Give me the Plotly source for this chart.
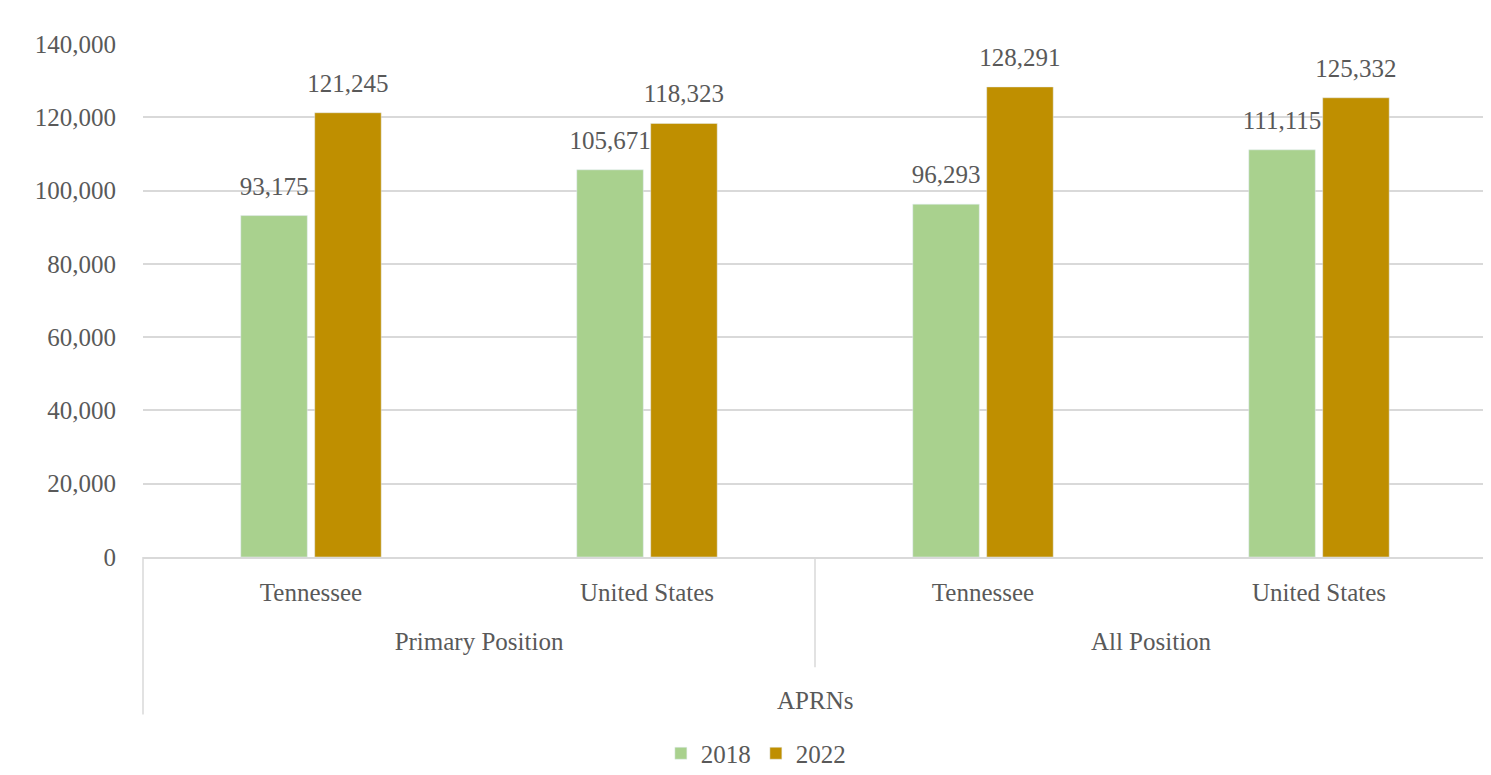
import plotly.graph_objects as go

groups = ["Primary Position", "Primary Position", "All Position", "All Position"]
regions = ["Tennessee", "United States", "Tennessee", "United States"]
vals_2018 = [93175, 105671, 96293, 111115]
vals_2022 = [121245, 118323, 128291, 125332]
y_ticks = [0, 20000, 40000, 60000, 80000, 100000, 120000, 140000]
outer_label = "APRNs"

FONT = "Liberation Serif, Times New Roman, serif"
GREY = "#595959"
LINE = "#d9d9d9"
BARGAP = 0.56

xcats = [["<br>" + g for g in groups], regions]

fig = go.Figure()
for name, vals, color in [("2018", vals_2018, "#A9D18E"), ("2022", vals_2022, "#BF8F00")]:
    fig.add_trace(go.Bar(
        x=xcats, y=vals, name=name, marker_color=color, offsetgroup=name,
    ))
for name, vals in [("2018", vals_2018), ("2022", vals_2022)]:
    fig.add_trace(go.Scatter(
        x=xcats, y=vals, offsetgroup=name, mode="markers+text",
        marker=dict(size=22, opacity=0), showlegend=False, hoverinfo="skip",
        text=[f"{v:,}" for v in vals], textposition="top center",
        textfont=dict(family=FONT, size=25, color=GREY), cliponaxis=False,
    ))

fig.update_layout(
    width=1483, height=767,
    margin=dict(l=135, r=4, t=36, b=218, autoexpand=False),
    paper_bgcolor="white", plot_bgcolor="white",
    barmode="group", bargap=BARGAP, bargroupgap=0.1,
    scattermode="group", scattergap=BARGAP,
    font=dict(family=FONT, size=25, color=GREY),
    showlegend=True,
    legend=dict(orientation="h", x=0.456, xanchor="center", y=-0.383, yanchor="middle",
                font=dict(family=FONT, size=25, color=GREY), itemwidth=30,
                traceorder="normal"),
)
fig.update_yaxes(range=[0, 140000], tickvals=y_ticks,
                 ticktext=[f"{v:,}" for v in y_ticks],
                 showgrid=True, gridcolor=LINE, gridwidth=1.5,
                 zeroline=False, showline=False, ticks="", automargin=False,
                 ticklabelstandoff=26,
                 tickfont=dict(family=FONT, size=25, color=GREY))
fig.update_xaxes(type="multicategory", showdividers=False, automargin=False,
                 showline=True, linecolor=LINE, linewidth=1.5,
                 ticks="", ticklabelstandoff=12,
                 tickfont=dict(family=FONT, size=25, color=GREY))

# outer category box lines
for x0, y1 in [(0, -0.307), (0.5, -0.215), (1, -0.307)]:
    fig.add_shape(type="line", xref="paper", yref="paper", x0=x0, x1=x0, y0=0, y1=y1,
                  line=dict(color=LINE, width=1.5))
fig.add_annotation(text=outer_label, xref="paper", yref="paper", x=0.5, y=-0.279,
                   yanchor="middle", showarrow=False,
                   font=dict(family=FONT, size=25, color=GREY))

fig.write_html("out.html")
